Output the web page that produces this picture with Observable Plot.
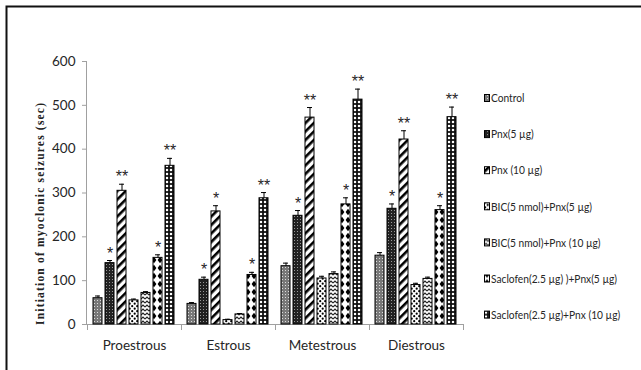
<!DOCTYPE html>
<html>
<head>
<meta charset="utf-8">
<script src="https://cdn.jsdelivr.net/npm/d3@7"></script>
<script src="https://cdn.jsdelivr.net/npm/@observablehq/plot@0.6"></script>
<style>
  html, body { margin: 0; padding: 0; background: #fff; }
  svg { display: block; }
</style>
</head>
<body>
<div id="chart"></div>
<script>
// ---- data ----
const phases = ["Proestrous", "Estrous", "Metestrous", "Diestrous"];
const treatments = [
  "Control",
  "Pnx(5 µg)",
  "Pnx (10 µg)",
  "BIC(5 nmol)+Pnx(5 µg)",
  "BIC(5 nmol)+Pnx (10 µg)",
  "Saclofen(2.5 µg) )+Pnx(5 µg)",
  "Saclofen(2.5 µg)+Pnx (10 µg)"
];
// values per treatment, in phase order
const control   = [60, 47, 133, 157];
const pnx5      = [140, 102, 248, 264];
const pnx10     = [305, 258, 472, 422];
const bicPnx5   = [55, 10, 105, 90];
const bicPnx10  = [72, 23, 115, 104];
const sacPnx5   = [152, 113, 274, 261];
const sacPnx10  = [362, 288, 513, 473];
// standard errors
const controlErr  = [5, 3, 7, 7];
const pnx5Err     = [6, 6, 12, 11];
const pnx10Err    = [15, 13, 23, 20];
const bicPnx5Err  = [3, 2, 5, 4];
const bicPnx10Err = [3, 2, 5, 4];
const sacPnx5Err  = [7, 6, 15, 10];
const sacPnx10Err = [17, 13, 24, 23];
// significance marks
const controlSig  = ["", "", "", ""];
const pnx5Sig     = ["*", "*", "*", "*"];
const pnx10Sig    = ["**", "*", "**", "**"];
const bicPnx5Sig  = ["", "", "", ""];
const bicPnx10Sig = ["", "", "", ""];
const sacPnx5Sig  = ["*", "*", "*", "*"];
const sacPnx10Sig = ["**", "**", "**", "**"];
const yTicks = [0, 100, 200, 300, 400, 500, 600];
const yTitle = "Initiation of myoclonic seizures (sec)";

const seriesValues = [control, pnx5, pnx10, bicPnx5, bicPnx10, sacPnx5, sacPnx10];
const seriesErr = [controlErr, pnx5Err, pnx10Err, bicPnx5Err, bicPnx10Err, sacPnx5Err, sacPnx10Err];
const seriesSig = [controlSig, pnx5Sig, pnx10Sig, bicPnx5Sig, bicPnx10Sig, sacPnx5Sig, sacPnx10Sig];

const data = [];
phases.forEach((p, i) => {
  treatments.forEach((t, j) => {
    data.push({
      phase: p, treatment: t,
      value: seriesValues[j][i], err: seriesErr[j][i], sig: seriesSig[j][i],
      fill: `url(#pat${j})`
    });
  });
});

const tickFont = "Lato, 'Open Sans', sans-serif";
const axisGrey = "#a0a0a0";

const chart = Plot.plot({
  width: 641,
  height: 370,
  marginLeft: 86,
  marginRight: 178,
  marginTop: 61,
  marginBottom: 46,
  style: { fontFamily: tickFont, background: "white" },
  fx: { domain: phases, padding: 0, label: null },
  x: { domain: treatments, paddingInner: 0.22, paddingOuter: 0.28, axis: null },
  y: { domain: [0, 600], label: null },
  color: { type: "identity" },
  marks: [
    Plot.axisY({ ticks: yTicks, tickSize: 5, stroke: axisGrey, fill: "#262626",
                 fontSize: 13.5, tickPadding: 7, label: null }),
    Plot.axisFx({ anchor: "bottom", tickSize: 0, tickPadding: 16, fontSize: 13.5,
                  fill: "#262626", label: null }),
    Plot.ruleY([0], { stroke: axisGrey }),
    Plot.frame({ anchor: "left", stroke: axisGrey, insetTop: 263, insetBottom: -5 }),
    Plot.frame({ anchor: "right", stroke: axisGrey, insetTop: 263, insetBottom: -5 }),
    Plot.barY(data, { fx: "phase", x: "treatment", y: "value", fill: "fill",
                      stroke: "black", strokeWidth: 1 }),
    Plot.ruleX(data, { fx: "phase", x: "treatment", y1: "value", y2: d => d.value + d.err,
                       stroke: "black", strokeWidth: 1 }),
    Plot.tickY(data, { fx: "phase", x: "treatment", y: d => d.value + d.err,
                       stroke: "black", strokeWidth: 1, insetLeft: 2, insetRight: 2 }),
    Plot.text(data.filter(d => d.sig), { fx: "phase", x: "treatment", y: d => d.value + d.err,
                       text: "sig", lineAnchor: "bottom", dy: -2, fontSize: 16,
                       fontFamily: "'Liberation Sans', Arial, sans-serif", fill: "#262626" })
  ]
});

const svg = d3.select(chart);
const defs = svg.insert("defs", ":first-child");

function pat(id, w, h, transform) {
  const p = defs.append("pattern").attr("id", id).attr("width", w).attr("height", h)
    .attr("patternUnits", "userSpaceOnUse");
  if (transform) p.attr("patternTransform", transform);
  return p;
}
// 0 Control: grey stipple
let p = pat("pat0", 3, 3);
p.append("rect").attr("width", 3).attr("height", 3).attr("fill", "#787878");
p.append("rect").attr("width", 1).attr("height", 1).attr("fill", "#dcdcdc");
// 1 Pnx 5: dark stipple
p = pat("pat1", 3, 3);
p.append("rect").attr("width", 3).attr("height", 3).attr("fill", "#222");
p.append("rect").attr("width", 1).attr("height", 1).attr("fill", "#999");
// 2 Pnx 10: diagonal stripes
p = pat("pat2", 6, 6, "rotate(45)");
p.append("rect").attr("width", 6).attr("height", 6).attr("fill", "white");
p.append("rect").attr("width", 2.6).attr("height", 6).attr("fill", "black");
// 3 BIC + Pnx 5: scattered black spots
p = pat("pat3", 5, 5);
p.append("rect").attr("width", 5).attr("height", 5).attr("fill", "white");
p.append("circle").attr("cx", 1.2).attr("cy", 1.2).attr("r", 1.1).attr("fill", "black");
p.append("circle").attr("cx", 3.7).attr("cy", 3.7).attr("r", 1.1).attr("fill", "black");
// 4 BIC + Pnx 10: zigzag
p = pat("pat4", 4, 4);
p.append("rect").attr("width", 4).attr("height", 4).attr("fill", "white");
p.append("path").attr("d", "M0,3 L2,1 L4,3").attr("fill", "none").attr("stroke", "#222").attr("stroke-width", 1.1);
// 5 Saclofen + Pnx 5: diamonds
p = pat("pat5", 6, 8);
p.append("rect").attr("width", 6).attr("height", 8).attr("fill", "white");
p.append("path").attr("d", "M3,0.8 L5.4,4 L3,7.2 L0.6,4 Z").attr("fill", "black");
// 6 Saclofen + Pnx 10: black with white circles
p = pat("pat6", 4, 4);
p.append("rect").attr("width", 4).attr("height", 4).attr("fill", "#111");
p.append("circle").attr("cx", 2).attr("cy", 2).attr("r", 1.25).attr("fill", "white");

// y-axis domain line, placed with Plot's own y scale
const yScale = chart.scale("y");
svg.append("line")
  .attr("x1", 86.5).attr("x2", 86.5)
  .attr("y1", yScale.apply(yTicks[0])).attr("y2", yScale.apply(yTicks[yTicks.length - 1]))
  .attr("stroke", axisGrey).attr("stroke-width", 1);

// outer frame (top and left edges of the picture)
svg.append("path").attr("d", "M6.5,370 L6.5,6.5 L641,6.5")
  .attr("fill", "none").attr("stroke", "#111").attr("stroke-width", 2);

// y-axis title
svg.append("text")
  .attr("transform", "translate(44,214) rotate(-90)")
  .attr("text-anchor", "middle")
  .attr("font-family", "'Liberation Serif', 'Times New Roman', serif")
  .attr("font-weight", "bold")
  .attr("font-size", 11.5)
  .attr("textLength", 222)
  .attr("lengthAdjust", "spacing")
  .attr("fill", "#222")
  .text(yTitle);

// legend
const leg = svg.append("g").attr("transform", "translate(484,98)");
treatments.forEach((t, j) => {
  const g = leg.append("g").attr("transform", `translate(0,${j * 36.1})`);
  g.append("rect").attr("x", 0.5).attr("y", -3.5).attr("width", 5).attr("height", 7)
    .attr("fill", `url(#pat${j})`).attr("stroke", "black").attr("stroke-width", 1);
  g.append("text").attr("transform", "translate(7,0) scale(0.85,1)")
    .attr("dy", "0.35em")
    .attr("text-anchor", "start")
    .attr("font-family", "Lato, sans-serif")
    .attr("font-size", 12).attr("fill", "#262626")
    .text(t);
});

document.getElementById("chart").appendChild(chart);
</script>
</body>
</html>
